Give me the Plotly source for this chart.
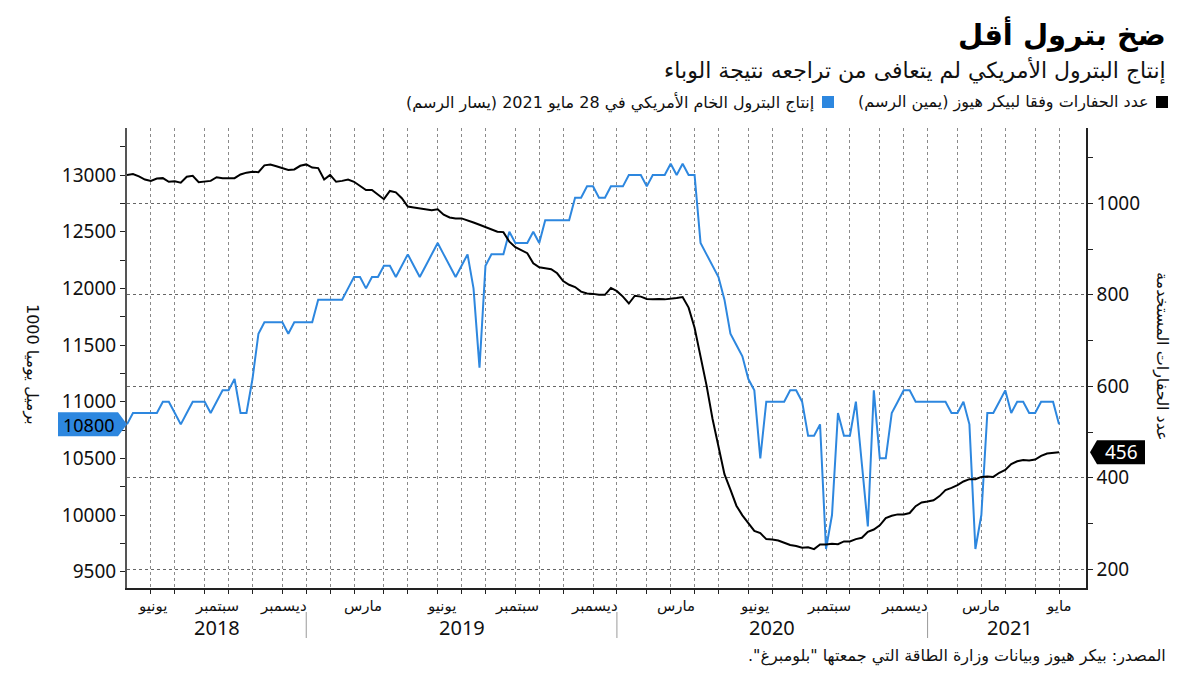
import pandas as pd
import plotly.graph_objects as go

# ---------------- data ----------------
start_date = "2018-06-01"
n_weeks = 157
dates = pd.date_range(start_date, periods=n_weeks, freq="7D")

production = [
    10800, 10900, 10900, 10900, 10900, 10900, 11000, 11000, 10900, 10800,
    10900, 11000, 11000, 11000, 10900, 11000, 11100, 11100, 11200, 10900,
    10900, 11200, 11600, 11700, 11700, 11700, 11700, 11600, 11700, 11700,
    11700, 11700, 11900, 11900, 11900, 11900, 11900, 12000, 12100, 12100,
    12000, 12100, 12100, 12200, 12200, 12100, 12200, 12300, 12200, 12100,
    12200, 12300, 12400, 12300, 12200, 12100, 12200, 12300, 12000, 11300,
    12200, 12300, 12300, 12300, 12500, 12400, 12400, 12400, 12500, 12400,
    12600, 12600, 12600, 12600, 12600, 12800, 12800, 12900, 12900, 12800,
    12800, 12900, 12900, 12900, 13000, 13000, 13000, 12900, 13000, 13000,
    13000, 13100, 13000, 13100, 13000, 13000, 12400, 12300, 12200, 12100,
    11900, 11600, 11500, 11400, 11200, 11100, 10500, 11000, 11000, 11000,
    11000, 11100, 11100, 11000, 10700, 10700, 10800, 9700, 10000, 10900,
    10700, 10700, 11000, 10450, 9900, 11100, 10500, 10500, 10900, 11000,
    11100, 11100, 11000, 11000, 11000, 11000, 11000, 11000, 10900, 10900,
    11000, 10800, 9700, 10000, 10900, 10900, 11000, 11100, 10900, 11000,
    11000, 10900, 10900, 11000, 11000, 11000, 10800,
]

rigs = [
    1062, 1064, 1059, 1052, 1049, 1054, 1055, 1047, 1048, 1045,
    1058, 1060, 1046, 1048, 1049, 1057, 1055, 1055, 1055, 1063,
    1067, 1069, 1068, 1083, 1085, 1081, 1077, 1073, 1074, 1082,
    1085, 1078, 1077, 1052, 1062, 1047, 1049, 1052, 1047, 1037,
    1029, 1029, 1019, 1009, 1027, 1024, 1011, 993, 991, 989,
    987, 985, 987, 975, 969, 967, 967, 963, 958, 953,
    948, 943, 938, 937, 916, 904, 898, 891, 869, 860,
    858, 856, 847, 830, 822, 817, 807, 803, 802, 800,
    800, 815, 808, 796, 781, 798, 796, 791, 790, 791,
    790, 791, 793, 795, 772, 728, 664, 602, 529, 465,
    408, 374, 339, 318, 301, 284, 279, 266, 265, 263,
    258, 253, 251, 247, 248, 244, 254, 254, 256, 255,
    261, 261, 266, 269, 282, 287, 296, 312, 317, 320,
    320, 323, 338, 346, 348, 351, 360, 373, 378, 384,
    392, 397, 397, 402, 403, 402, 411, 417, 430, 436,
    439, 438, 440, 448, 453, 455, 456,
]

month_labels = ["يونيو", "سبتمبر", "ديسمبر", "مارس", "يونيو", "سبتمبر", "ديسمبر",
                "مارس", "يونيو", "سبتمبر", "ديسمبر", "مارس", "مايو"]
month_label_dates = ["2018-07-01", "2018-09-14", "2018-12-01", "2019-03-05", "2019-06-05",
                     "2019-09-01", "2019-12-01", "2020-03-05", "2020-06-05", "2020-09-01",
                     "2020-11-28", "2021-02-26", "2021-05-28"]
year_labels = ["2018", "2019", "2020", "2021"]
year_label_dates = ["2018-09-15", "2019-06-28", "2020-06-26", "2021-04-01"]

left_ticks = [9500, 10000, 10500, 11000, 11500, 12000, 12500, 13000]
right_ticks = [200, 400, 600, 800, 1000]

title = "ضخ بترول أقل"
subtitle = "إنتاج البترول الأمريكي لم يتعافى من تراجعه نتيجة الوباء"
legend_rigs = "عدد الحفارات وفقا لبيكر هيوز (يمين الرسم)"
legend_prod = "إنتاج البترول الخام الأمريكي في 28 مايو 2021 (يسار الرسم)"
left_title = "1000 برميل يوميا"
right_title = "عدد الحفارات المستخدمة"
source = "المصدر: بيكر هيوز وبيانات وزارة الطاقة التي جمعتها \"بلومبرغ\"."

# ---------------- styling ----------------
BLUE = "#2d87df"
FONT = "Noto Sans, DejaVu Sans, sans-serif"
AR_FONT = "DejaVu Sans, sans-serif"

W, H = 1200, 675
L, R, T, B = 127, 1086, 128, 588


def px(x):
    return (x - L) / (R - L)


def py(y):
    return (B - y) / (B - T)


def rtl(s):
    return "\u202B" + s + "\u202C"


# gridline dates: last weekly observation of each month
s = pd.Series(dates, index=dates)
month_ends = list(s.groupby([s.index.year, s.index.month]).max())
year_ends = list(s.groupby(s.index.year).max())[:-1]

fig = go.Figure()
fig.add_trace(go.Scatter(x=dates, y=production, mode="lines", yaxis="y",
                         line=dict(color=BLUE, width=2), showlegend=False))
fig.add_trace(go.Scatter(x=dates, y=rigs, mode="lines", yaxis="y2",
                         line=dict(color="#000000", width=2), showlegend=False))

x_end = dates[-1] + pd.Timedelta(days=31.6)

fig.update_layout(
    width=W, height=H,
    margin=dict(l=L, r=W - R, t=T, b=H - B, pad=0),
    paper_bgcolor="white", plot_bgcolor="white",
    font=dict(family=FONT, color="#111"),
    xaxis=dict(range=[dates[0], x_end], tickmode="array", tickvals=month_ends,
               showticklabels=False, ticks="outside", ticklen=4, tickcolor="#222",
               showgrid=True, gridcolor="#8a8a8a", griddash="dot", gridwidth=1,
               showline=True, linecolor="#222", linewidth=1.5, zeroline=False),
    yaxis=dict(range=[9356, 13415], tickmode="array", tickvals=left_ticks,
               tickformat="d",
               ticks="outside", ticklen=5, tickcolor="#222", showgrid=False,
               showline=True, linecolor="#555", linewidth=2, zeroline=False,
               tickfont=dict(size=19, color="#111"),
               minor=dict(tickmode="array", tickvals=[v + 250 for v in left_ticks],
                          ticks="outside", ticklen=5, tickcolor="#222")),
    yaxis2=dict(range=[159.1, 1164.6], overlaying="y", side="right", tickmode="array",
                tickvals=right_ticks, ticks="outside", ticklen=5, tickcolor="#222",
                showgrid=True, gridcolor="#666", griddash="dot", gridwidth=1,
                showline=True, linecolor="#222", linewidth=1.5, zeroline=False,
                tickfont=dict(size=19, color="#111"),
                minor=dict(tickmode="array", tickvals=[v + 100 for v in right_ticks],
                           ticks="outside", ticklen=5, tickcolor="#222")),
)

ann = []
# titles
ann.append(dict(text=rtl(title), x=px(1168), y=py(34), xanchor="right", yanchor="middle",
                font=dict(family=AR_FONT, size=29, color="#000", weight="bold")))
ann.append(dict(text=rtl(subtitle), x=px(1168), y=py(70), xanchor="right", yanchor="middle",
                font=dict(family=AR_FONT, size=22, color="#111")))
# legend
ann.append(dict(text=rtl(legend_rigs), x=px(1151), y=py(102), xanchor="right", yanchor="middle",
                font=dict(family=AR_FONT, size=16, color="#111")))
ann.append(dict(text=rtl(legend_prod), x=px(816), y=py(102), xanchor="right", yanchor="middle",
                font=dict(family=AR_FONT, size=16, color="#111")))
# axis titles
ann.append(dict(text=left_title, x=px(32), y=py(364), xanchor="center", yanchor="middle",
                textangle=90, font=dict(family=AR_FONT, size=16, color="#111")))
ann.append(dict(text=rtl(right_title), x=px(1162), y=py(356), xanchor="center", yanchor="middle",
                textangle=90, font=dict(family=AR_FONT, size=16, color="#111")))
# source
ann.append(dict(text=rtl(source), x=px(1168), y=py(656), xanchor="right", yanchor="middle",
                font=dict(family=AR_FONT, size=16, color="#111")))
# month / year labels
for lab, d in zip(month_labels, month_label_dates):
    ann.append(dict(text=lab, x=d, xref="x", y=py(606), xanchor="center", yanchor="middle",
                    font=dict(family=AR_FONT, size=15, color="#111")))
for lab, d in zip(year_labels, year_label_dates):
    ann.append(dict(text=lab, x=d, xref="x", y=py(627), xanchor="center", yanchor="middle",
                    font=dict(family=FONT, size=20, color="#111")))
# value tags
ann.append(dict(text=f"{production[-1]}", x=0, xshift=-39, y=production[-1], yref="y",
                yshift=-1, xanchor="center", yanchor="middle",
                font=dict(family=FONT, size=18, color="#000")))
ann.append(dict(text=f"{rigs[-1]}", x=1, xshift=35, y=rigs[-1], yref="y2",
                xanchor="center", yanchor="middle",
                font=dict(family=FONT, size=19, color="#fff")))

for a in ann:
    a.setdefault("xref", "paper")
    a.setdefault("yref", "paper")
    a["showarrow"] = False
fig.update_layout(annotations=ann)

shapes = []
# legend squares
shapes.append(dict(type="rect", xref="paper", yref="paper", x0=px(1156), x1=px(1168),
                   y0=py(108), y1=py(96), fillcolor="#000", line=dict(width=0)))
shapes.append(dict(type="rect", xref="paper", yref="paper", x0=px(822), x1=px(834),
                   y0=py(108), y1=py(96), fillcolor=BLUE, line=dict(width=0)))
# year separators
for d in year_ends:
    shapes.append(dict(type="line", xref="x", yref="paper", x0=d, x1=d,
                       y0=py(612), y1=py(638), line=dict(color="#9a9a9a", width=1)))
# value tag boxes
shapes.append(dict(type="path", xref="paper", yref="y", xsizemode="pixel", ysizemode="pixel",
                   xanchor=0, yanchor=production[-1],
                   path="M -69,-12 L -9,-12 L 0,0 L -9,12 L -69,12 Z",
                   fillcolor=BLUE, line=dict(width=0), layer="above"))
shapes.append(dict(type="path", xref="paper", yref="y2", xsizemode="pixel", ysizemode="pixel",
                   xanchor=1, yanchor=rigs[-1],
                   path="M 4,0 L 11,-12 L 59,-12 L 59,12 L 11,12 Z",
                   fillcolor="#000", line=dict(width=0), layer="above"))
fig.update_layout(shapes=shapes)

fig.write_html("out.html")
